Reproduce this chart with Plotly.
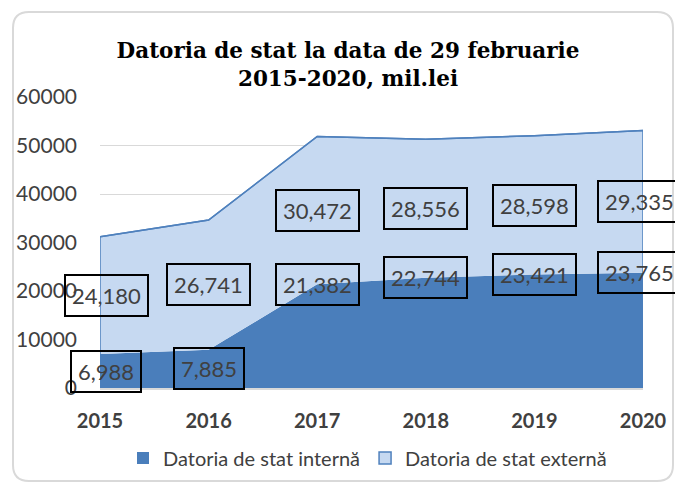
import plotly.graph_objects as go

# ---- data ----
years = ["2015", "2016", "2017", "2018", "2019", "2020"]
internal = [6988, 7885, 21382, 22744, 23421, 23765]
external = [24180, 26741, 30472, 28556, 28598, 29335]
series_names = ["Datoria de stat internă", "Datoria de stat externă"]
title_text = "Datoria de stat la data de 29 februarie<br>2015-2020, mil.lei"

# label anchor fraction within internal band (style)
internal_label_frac = [0.5, 0.5, 1.0, 1.0, 1.0, 1.0]
label_xshift = [6, 0, 0, 0, 0, -4]

W, H = 675, 483
L, R, T, B = 100, 32, 97, 95
PW, PH = W - L - R, H - T - B

DARK = "#4A7EBB"
LIGHT = "#C6D9F1"
LINE = "#4F81BD"
GRID = "#D9D9D9"
TXT = "#404040"
SANS = "Lato"

totals = [a + b for a, b in zip(internal, external)]

fig = go.Figure()
fig.add_trace(go.Scatter(x=years, y=internal, stackgroup="s", mode="lines",
                         line=dict(width=0, color=DARK), fillcolor=DARK,
                         showlegend=False, hoverinfo="skip"))
fig.add_trace(go.Scatter(x=years, y=external, stackgroup="s", mode="lines",
                         line=dict(width=1.5, color=LINE), fillcolor=LIGHT,
                         showlegend=False, hoverinfo="skip"))
# outline sides of external area
fig.add_trace(go.Scatter(x=[years[0]] + years + [years[-1]],
                         y=[internal[0]] + totals + [internal[-1]],
                         mode="lines", line=dict(width=1.5, color=LINE),
                         showlegend=False, hoverinfo="skip"))
# legend swatches
fig.add_trace(go.Bar(x=[None], y=[None], name=series_names[0],
                     marker=dict(color=DARK, line=dict(width=0))))
fig.add_trace(go.Bar(x=[None], y=[None], name=series_names[1],
                     marker=dict(color=LIGHT, line=dict(width=1.5, color=LINE))))

annotations = []
for i in range(len(years)):
    for val, ypos in ((internal[i], internal[i] * internal_label_frac[i]),
                      (external[i], internal[i] + external[i] / 2)):
        annotations.append(dict(
            x=i, y=ypos, xref="x", yref="y",
            text=f"{val:,}", showarrow=False, xshift=label_xshift[i],
            font=dict(family=SANS, size=22, color=TXT),
            bordercolor="black", borderwidth=2, borderpad=6))


def px2paper(px, py):
    return (px - L) / PW, (H - B - py) / PH


def card_path(x0, y0, x1, y1, r):
    pts = [
        ("M", [(x0 + r, y0)]),
        ("L", [(x1 - r, y0)]),
        ("Q", [(x1, y0), (x1, y0 + r)]),
        ("L", [(x1, y1 - r)]),
        ("Q", [(x1, y1), (x1 - r, y1)]),
        ("L", [(x0 + r, y1)]),
        ("Q", [(x0, y1), (x0, y1 - r)]),
        ("L", [(x0, y0 + r)]),
        ("Q", [(x0, y0), (x0 + r, y0)]),
    ]
    s = ""
    for cmd, ps in pts:
        s += cmd + " ".join("%.5f,%.5f" % px2paper(a, b) for a, b in ps) + " "
    return s + "Z"


fig.update_layout(
    width=W, height=H,
    margin=dict(l=L, r=R, t=T, b=B, autoexpand=False),
    paper_bgcolor="white", plot_bgcolor="rgba(0,0,0,0)",
    title=dict(text=title_text, x=348 / W, xref="container", xanchor="center",
               y=1 - 58 / H, yref="container", yanchor="middle",
               font=dict(family="DejaVu Serif", size=21.5, color="black",
                         weight="bold")),
    xaxis=dict(type="category", range=[0, 5], showgrid=False, zeroline=False,
               showline=True, linecolor=GRID, linewidth=1.5, ticks="",
               ticklabelstandoff=14, automargin=False,
               tickfont=dict(family=SANS, size=20, color=TXT, weight="bold")),
    yaxis=dict(range=[0, 60000], dtick=10000, tickformat="d", showgrid=True,
               gridcolor=GRID, gridwidth=1, zeroline=False, showline=False,
               ticks="", ticklabelstandoff=22, automargin=False,
               tickfont=dict(family=SANS, size=21, color=TXT)),
    showlegend=True,
    legend=dict(orientation="h", xref="container", yref="container",
                x=123 / W, xanchor="left", y=1 - 458 / H, yanchor="middle",
                traceorder="normal",
                font=dict(family=SANS, size=20, color=TXT),
                bgcolor="rgba(0,0,0,0)", itemclick=False),
    annotations=annotations,
    shapes=[dict(type="path", xref="paper", yref="paper",
                 path=card_path(13, 12, 673, 481, 16),
                 line=dict(color=GRID, width=2), fillcolor="rgba(0,0,0,0)",
                 layer="below")],
)

fig.write_html("out.html", config={"displayModeBar": False},
               post_script="document.body.style.margin='0';")
